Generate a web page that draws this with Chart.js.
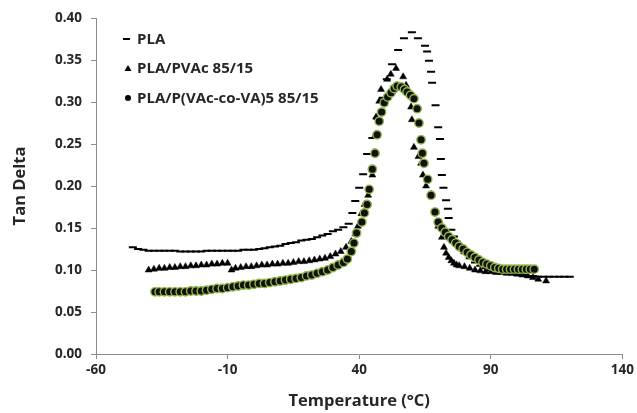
<!DOCTYPE html>
<html>
<head>
<meta charset="utf-8">
<script src="https://cdn.jsdelivr.net/npm/chart.js@4/dist/chart.umd.min.js"></script>
<style>
html,body{margin:0;padding:0;background:#fff;}
#wrap{position:relative;width:637px;height:413px;}
</style>
</head>
<body>
<div id="wrap"><canvas id="c" width="637" height="413"></canvas></div>
<script>
// ---- Data ----
const seriesNames = ["PLA", "PLA/PVAc 85/15", "PLA/P(VAc-co-VA)5 85/15"];
const xTicks = [-60, -10, 40, 90, 140];
const yTicks = [0, 0.05, 0.10, 0.15, 0.20, 0.25, 0.30, 0.35, 0.40];

const plaTemp = [-46,-44,-42,-40,-38,-36,-34,-32,-30,-28,-26,-24,-22,-20,-18,-16,-14,-12,-10,-8,-6,-4,-2,0,2,4,6,8,10,12,14,16,18,20,22,24,26,28,30,32,34,36,37.4,38.5,40,41.5,43,45,47,49,50.5,52.5,54.8,57,60,62.3,65,65.8,66.5,67.3,67.7,69,70,70.7,71,71.4,72,73,73.7,74,75,76,77,78,79,80,82,84,86,88,90,92,94,96,98,100,102,104,106,108,110,112,114,116,118,120];
const plaTan  = [0.127,0.125,0.124,0.123,0.123,0.123,0.123,0.123,0.123,0.122,0.122,0.122,0.122,0.122,0.123,0.123,0.123,0.123,0.123,0.123,0.123,0.124,0.124,0.124,0.125,0.126,0.127,0.128,0.129,0.131,0.132,0.133,0.135,0.136,0.137,0.139,0.141,0.143,0.146,0.148,0.151,0.155,0.168,0.182,0.198,0.214,0.238,0.257,0.280,0.305,0.327,0.345,0.362,0.376,0.383,0.376,0.367,0.360,0.349,0.336,0.323,0.296,0.270,0.256,0.232,0.213,0.198,0.183,0.173,0.162,0.148,0.140,0.134,0.128,0.124,0.120,0.114,0.109,0.105,0.102,0.100,0.098,0.097,0.096,0.095,0.095,0.094,0.093,0.093,0.092,0.092,0.092,0.092,0.092,0.092,0.092];

const pvacTemp = [-40,-38,-36,-34,-32,-30,-28,-26,-24,-22,-20,-18,-16,-14,-12,-10,-8.5,-7,-5,-3,-1,1,3,5,7,9,11,13,15,17,19,21,23,25,27,29,31,33,35,37,38.5,39.5,40.8,42,43.4,45,45.7,46,46.4,47.6,48.3,50.6,52,54,56.7,57.8,59.7,60,60.8,62.5,63.5,64.2,65.4,67.3,69.2,70,71.4,72.2,73,74,75,76,77,78,80,82,84,86,88,90,92,94,96,98,100,102,104,106,108,111];
const pvacTan  = [0.100,0.101,0.102,0.102,0.103,0.103,0.104,0.104,0.105,0.105,0.106,0.106,0.107,0.107,0.108,0.108,0.100,0.102,0.103,0.104,0.104,0.105,0.106,0.106,0.107,0.107,0.108,0.108,0.109,0.110,0.110,0.111,0.112,0.113,0.114,0.116,0.119,0.122,0.127,0.134,0.143,0.152,0.167,0.178,0.189,0.213,0.240,0.260,0.282,0.301,0.315,0.327,0.333,0.340,0.330,0.320,0.294,0.279,0.246,0.235,0.227,0.213,0.200,0.190,0.169,0.152,0.139,0.127,0.120,0.115,0.111,0.108,0.106,0.105,0.104,0.102,0.100,0.099,0.098,0.098,0.097,0.097,0.096,0.096,0.095,0.094,0.093,0.091,0.089,0.087];

const copTemp = [-37.6,-36,-34,-32,-30,-28,-26,-24,-22,-20,-18,-16,-14,-12,-10,-8,-6,-4,-2,0,2,4,6,8,10,12,14,16,18,20,22,24,26,28,30,32,34,35.5,37,38,39,41,42,43,43.8,45,46,46.8,47.6,48.5,49.5,50.8,52.1,53.3,54.4,56,57.2,58.2,59.5,60.8,62,62.7,63.5,64,64.6,66,67.3,68.8,70,71.4,72.7,74,75.3,76.7,78,79.5,81,82.5,84,85.5,87,88.5,90,91.5,93,94.5,96,97.5,99,100.5,102,103.5,105,106.5];
const copTan  = [0.074,0.074,0.074,0.074,0.074,0.074,0.074,0.075,0.075,0.075,0.076,0.077,0.078,0.078,0.079,0.080,0.081,0.082,0.082,0.083,0.084,0.084,0.085,0.086,0.087,0.088,0.089,0.090,0.091,0.093,0.094,0.096,0.098,0.100,0.103,0.106,0.109,0.113,0.122,0.132,0.144,0.157,0.168,0.178,0.196,0.220,0.239,0.261,0.277,0.288,0.299,0.306,0.311,0.316,0.319,0.318,0.315,0.312,0.308,0.304,0.292,0.275,0.255,0.239,0.227,0.208,0.189,0.169,0.157,0.150,0.145,0.140,0.136,0.132,0.128,0.125,0.121,0.118,0.115,0.112,0.109,0.107,0.105,0.103,0.102,0.101,0.101,0.101,0.101,0.101,0.101,0.101,0.101,0.101];

function pts(xs, ys){ return xs.map((x,i)=>({x:x, y:ys[i]})); }

const TXT = '#262626';
const FONT = '"Open Sans"';

// Legend drawn inside the plot area
const innerLegend = {
  id: 'innerLegend',
  afterDraw(chart){
    const ctx = chart.ctx, a = chart.chartArea;
    const x0 = a.left + 32, y0 = a.top + 21, dy = 29.5;
    ctx.save();
    ctx.font = 'bold 15px ' + FONT;
    ctx.textBaseline = 'middle';
    seriesNames.forEach((name, i) => {
      const y = y0 + i*dy;
      ctx.fillStyle = '#000'; ctx.strokeStyle = '#000';
      if (i === 0) {
        ctx.lineWidth = 2; ctx.beginPath(); ctx.moveTo(x0-5, y); ctx.lineTo(x0+2, y); ctx.stroke();
      } else if (i === 1) {
        ctx.beginPath(); ctx.moveTo(x0, y-3.5); ctx.lineTo(x0+3.5, y+2.5); ctx.lineTo(x0-3.5, y+2.5); ctx.closePath(); ctx.fill();
      } else {
        ctx.beginPath(); ctx.arc(x0, y, 3, 0, Math.PI*2); ctx.fill();
      }
      ctx.fillStyle = TXT;
      ctx.fillText(name, x0 + 9, y + 0.5);
    });
    ctx.restore();
  }
};

new Chart(document.getElementById('c'), {
  type: 'scatter',
  data: {
    datasets: [
      { label: seriesNames[2], data: pts(copTemp, copTan), order: 0,
        pointStyle: 'circle', pointRadius: 4.2, backgroundColor: '#111', borderColor: '#93b64a', borderWidth: 1.4 },
      { label: seriesNames[1], data: pts(pvacTemp, pvacTan), order: 1,
        pointStyle: 'triangle', pointRadius: 4, backgroundColor: '#000', borderColor: '#000', borderWidth: 0.5 },
      { label: seriesNames[0], data: pts(plaTemp, plaTan), order: 2,
        pointStyle: 'line', pointRadius: 4, backgroundColor: '#000', borderColor: '#000', borderWidth: 2 }
    ]
  },
  plugins: [innerLegend],
  options: {
    responsive: false,
    animation: false,
    layout: { padding: { left: 10, right: 13, top: 18, bottom: 2 } },
    plugins: { legend: { display: false }, tooltip: { enabled: false } },
    scales: {
      x: {
        type: 'linear', min: -60, max: 140,
        afterBuildTicks: ax => { ax.ticks = xTicks.map(v => ({value: v})); },
        afterFit: s => { s.height = 57; },
        grid: { display: true, drawOnChartArea: false, drawTicks: true, tickLength: 5, color: '#8c8c8c' },
        border: { color: '#8c8c8c', width: 1 },
        ticks: { color: TXT, font: { family: FONT, size: 13.5, weight: 'bold' }, padding: 3, maxRotation: 0 },
        title: { display: true, text: 'Temperature (°C)', color: TXT, font: { family: FONT, size: 16.5, weight: 'bold' }, padding: { top: 1, bottom: 0 } }
      },
      y: {
        type: 'linear', min: 0, max: 0.40,
        afterBuildTicks: ax => { ax.ticks = yTicks.map(v => ({value: v})); },
        afterFit: s => { s.width = 86; },
        grid: { display: true, drawOnChartArea: false, drawTicks: true, tickLength: 5, color: '#8c8c8c' },
        border: { color: '#8c8c8c', width: 1 },
        ticks: { color: TXT, font: { family: FONT, size: 13.5, weight: 'bold' }, padding: 9, callback: v => Number(v).toFixed(2) },
        title: { display: true, text: 'Tan Delta', color: TXT, font: { family: FONT, size: 16.5, weight: 'bold' }, padding: { top: 0, bottom: 10 } }
      }
    }
  }
});
</script>
</body>
</html>
